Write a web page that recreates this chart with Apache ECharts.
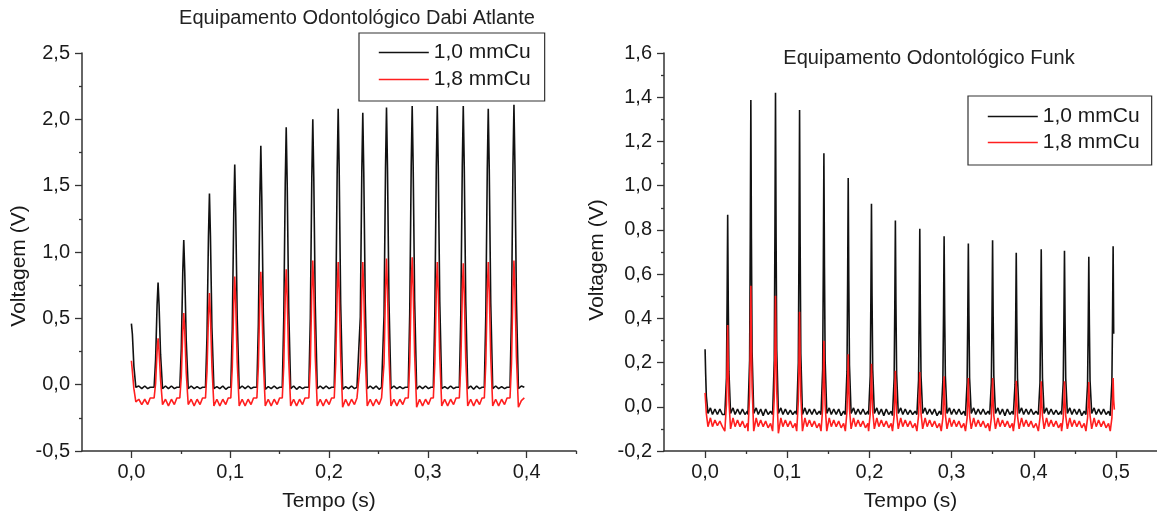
<!DOCTYPE html>
<html>
<head>
<meta charset="utf-8">
<title>Voltagem x Tempo</title>
<script src="https://cdn.jsdelivr.net/npm/echarts@6/dist/echarts.min.js"></script>
<style>
  html, body { margin: 0; padding: 0; background: #fff; }
  #chart { width: 1157px; height: 517px; }
</style>
</head>
<body>
<div id="chart"></div>
<script>
var FONT = 'Liberation Sans, Arial, sans-serif';
var seriesNames = ['1,0 mmCu', '1,8 mmCu'];

// Dabi Atlante: peak times (s) and sample offsets around each peak
var dabiPeakTimes = [0, 0.027, 0.053, 0.079, 0.1046, 0.131, 0.1567, 0.1836, 0.2093, 0.2342, 0.2582, 0.2842, 0.3096, 0.3359, 0.3612, 0.3872];
var dabiOffsets = [-0.004, -0.0025, -0.001, 0, 0.001, 0.0025, 0.0045, 0.0075, 0.0105, 0.0135, 0.0165, 0.019];
var dabiBlack = [
  [null, null, null, 0.46, 0.38, 0.14, -0.02, -0.01, -0.03, -0.01, -0.03, -0.02],
  [-0.02, 0.19, 0.60, 0.77, 0.60, 0.23, -0.03, -0.01, -0.03, -0.01, -0.03, -0.02],
  [-0.02, 0.27, 0.85, 1.09, 0.85, 0.33, -0.03, -0.01, -0.03, -0.015, -0.03, -0.02],
  [-0.02, 0.36, 1.12, 1.44, 1.12, 0.43, -0.03, -0.015, -0.03, -0.01, -0.035, -0.02],
  [-0.02, 0.42, 1.29, 1.66, 1.29, 0.50, -0.03, -0.01, -0.03, -0.01, -0.03, -0.02],
  [-0.02, 0.45, 1.40, 1.80, 1.40, 0.54, -0.035, -0.015, -0.03, -0.01, -0.03, -0.02],
  [-0.02, 0.49, 1.51, 1.94, 1.51, 0.58, -0.03, -0.01, -0.035, -0.015, -0.03, -0.02],
  [-0.02, 0.50, 1.56, 2.00, 1.56, 0.60, -0.03, -0.01, -0.03, -0.01, -0.03, -0.02],
  [-0.02, 0.52, 1.62, 2.08, 1.62, 0.62, -0.035, -0.015, -0.03, -0.01, -0.03, -0.02],
  [-0.02, 0.51, 1.60, 2.05, 1.60, 0.62, -0.03, -0.01, -0.03, -0.01, -0.035, -0.02],
  [-0.02, 0.52, 1.63, 2.09, 1.63, 0.63, -0.03, -0.01, -0.03, -0.015, -0.03, -0.02],
  [-0.02, 0.53, 1.64, 2.10, 1.64, 0.63, -0.035, -0.01, -0.03, -0.01, -0.03, -0.02],
  [-0.02, 0.53, 1.64, 2.10, 1.64, 0.63, -0.03, -0.015, -0.03, -0.01, -0.03, -0.02],
  [-0.02, 0.53, 1.64, 2.10, 1.64, 0.63, -0.03, -0.01, -0.035, -0.01, -0.03, -0.02],
  [-0.02, 0.52, 1.62, 2.08, 1.62, 0.62, -0.03, -0.01, -0.03, -0.015, -0.03, -0.02],
  [-0.02, 0.53, 1.65, 2.11, 1.65, 0.63, -0.03, -0.01, -0.02, null, null, null]
];
var dabiRed = [
  [null, null, null, 0.18, 0.10, -0.03, -0.13, -0.11, -0.15, -0.11, -0.15, -0.10],
  [-0.10, 0.01, 0.25, 0.35, 0.25, 0.04, -0.15, -0.11, -0.16, -0.11, -0.15, -0.10],
  [-0.10, 0.06, 0.40, 0.54, 0.40, 0.09, -0.15, -0.11, -0.16, -0.11, -0.15, -0.10],
  [-0.10, 0.10, 0.52, 0.69, 0.52, 0.14, -0.16, -0.11, -0.16, -0.11, -0.15, -0.10],
  [-0.10, 0.13, 0.61, 0.815, 0.61, 0.17, -0.16, -0.11, -0.16, -0.11, -0.15, -0.10],
  [-0.10, 0.14, 0.64, 0.85, 0.64, 0.19, -0.16, -0.11, -0.16, -0.11, -0.15, -0.10],
  [-0.10, 0.14, 0.66, 0.87, 0.66, 0.19, -0.16, -0.11, -0.16, -0.11, -0.15, -0.10],
  [-0.10, 0.16, 0.71, 0.935, 0.71, 0.21, -0.16, -0.11, -0.16, -0.11, -0.15, -0.10],
  [-0.10, 0.16, 0.70, 0.925, 0.70, 0.21, -0.17, -0.11, -0.16, -0.11, -0.15, -0.10],
  [-0.10, 0.16, 0.70, 0.925, 0.70, 0.21, -0.16, -0.11, -0.16, -0.11, -0.15, -0.10],
  [-0.10, 0.16, 0.72, 0.95, 0.72, 0.22, -0.16, -0.11, -0.16, -0.11, -0.15, -0.10],
  [-0.10, 0.17, 0.73, 0.96, 0.73, 0.22, -0.17, -0.11, -0.16, -0.11, -0.15, -0.10],
  [-0.10, 0.16, 0.70, 0.925, 0.70, 0.21, -0.16, -0.11, -0.16, -0.11, -0.15, -0.10],
  [-0.10, 0.15, 0.69, 0.915, 0.69, 0.20, -0.16, -0.11, -0.16, -0.11, -0.15, -0.10],
  [-0.10, 0.16, 0.70, 0.925, 0.70, 0.21, -0.16, -0.11, -0.16, -0.11, -0.15, -0.10],
  [-0.10, 0.16, 0.71, 0.935, 0.71, 0.21, -0.17, -0.12, -0.10, null, null, null]
];

// Funk
var funkPeakTimes = [0, 0.0275, 0.0557, 0.0857, 0.115, 0.1446, 0.1742, 0.2025, 0.2316, 0.2613, 0.2909, 0.3204, 0.3499, 0.3787, 0.4091, 0.4374, 0.467, 0.4966];
var funkOffsets = [-0.0035, -0.0015, -0.0007, 0, 0.0007, 0.0015, 0.0035, 0.0065, 0.009, 0.012, 0.015, 0.018, 0.021, 0.024];
var funkBlack = [
  [null, null, null, 0.26, 0.15, 0.05, -0.03, -0.005, -0.035, -0.01, -0.035, -0.01, -0.035, null],
  [-0.035, 0.13, 0.48, 0.868, 0.48, 0.16, -0.03, -0.005, -0.035, -0.01, -0.035, -0.01, -0.035, -0.02],
  [-0.035, 0.21, 0.76, 1.387, 0.76, 0.25, -0.03, -0.005, -0.035, -0.01, -0.04, -0.01, -0.035, -0.02],
  [-0.035, 0.21, 0.78, 1.42, 0.78, 0.26, -0.03, -0.005, -0.035, -0.01, -0.035, -0.015, -0.035, -0.02],
  [-0.035, 0.20, 0.74, 1.342, 0.74, 0.24, -0.035, -0.005, -0.035, -0.01, -0.035, -0.01, -0.035, -0.02],
  [-0.035, 0.17, 0.63, 1.147, 0.63, 0.21, -0.03, -0.005, -0.035, -0.01, -0.035, -0.01, -0.04, -0.02],
  [-0.035, 0.16, 0.57, 1.035, 0.57, 0.19, -0.03, -0.005, -0.035, -0.01, -0.035, -0.01, -0.035, -0.02],
  [-0.035, 0.14, 0.50, 0.918, 0.50, 0.17, -0.03, -0.005, -0.035, -0.01, -0.04, -0.01, -0.035, -0.02],
  [-0.04, 0.13, 0.46, 0.843, 0.46, 0.15, -0.03, -0.005, -0.035, -0.01, -0.035, -0.015, -0.035, -0.02],
  [-0.035, 0.12, 0.44, 0.805, 0.44, 0.14, -0.03, -0.005, -0.035, -0.01, -0.035, -0.01, -0.04, -0.02],
  [-0.035, 0.12, 0.42, 0.771, 0.42, 0.14, -0.03, -0.005, -0.035, -0.01, -0.035, -0.01, -0.035, -0.02],
  [-0.04, 0.11, 0.41, 0.738, 0.41, 0.13, -0.03, -0.005, -0.035, -0.01, -0.035, -0.01, -0.035, -0.02],
  [-0.035, 0.11, 0.41, 0.753, 0.41, 0.14, -0.03, -0.005, -0.035, -0.01, -0.04, -0.01, -0.035, -0.02],
  [-0.035, 0.10, 0.38, 0.697, 0.38, 0.13, -0.03, -0.005, -0.035, -0.01, -0.035, -0.01, -0.035, -0.02],
  [-0.035, 0.11, 0.39, 0.712, 0.39, 0.13, -0.03, -0.005, -0.035, -0.01, -0.035, -0.015, -0.035, -0.02],
  [-0.035, 0.11, 0.39, 0.706, 0.39, 0.13, -0.03, -0.005, -0.035, -0.01, -0.035, -0.01, -0.04, -0.02],
  [-0.035, 0.10, 0.37, 0.678, 0.37, 0.12, -0.03, -0.005, -0.035, -0.01, -0.035, -0.01, -0.035, -0.02],
  [-0.04, 0.11, 0.40, 0.726, 0.33, null, null, null, null, null, null, null, null, null]
];
var funkRed = [
  [null, null, null, 0.063, 0.02, -0.03, -0.09, -0.05, -0.09, -0.06, -0.085, -0.065, -0.09, null],
  [-0.11, 0.01, 0.18, 0.37, 0.18, 0.03, -0.10, -0.05, -0.09, -0.06, -0.09, -0.065, -0.095, -0.075],
  [-0.11, 0.05, 0.28, 0.547, 0.28, 0.09, -0.11, -0.05, -0.09, -0.06, -0.09, -0.065, -0.095, -0.075],
  [-0.11, 0.04, 0.26, 0.502, 0.26, 0.07, -0.12, -0.05, -0.09, -0.06, -0.09, -0.065, -0.095, -0.075],
  [-0.11, 0.025, 0.21, 0.43, 0.21, 0.05, -0.11, -0.05, -0.09, -0.06, -0.09, -0.065, -0.095, -0.075],
  [-0.11, -0.01, 0.13, 0.298, 0.13, 0.01, -0.11, -0.05, -0.09, -0.06, -0.09, -0.065, -0.095, -0.075],
  [-0.11, -0.02, 0.10, 0.238, 0.10, -0.01, -0.10, -0.05, -0.09, -0.06, -0.09, -0.065, -0.095, -0.075],
  [-0.11, -0.03, 0.07, 0.195, 0.07, -0.02, -0.10, -0.05, -0.09, -0.06, -0.09, -0.065, -0.095, -0.075],
  [-0.11, -0.04, 0.05, 0.163, 0.05, -0.03, -0.10, -0.05, -0.09, -0.06, -0.09, -0.065, -0.095, -0.075],
  [-0.11, -0.04, 0.05, 0.157, 0.05, -0.03, -0.10, -0.05, -0.09, -0.06, -0.09, -0.065, -0.095, -0.075],
  [-0.11, -0.05, 0.04, 0.138, 0.04, -0.035, -0.10, -0.05, -0.09, -0.06, -0.09, -0.065, -0.095, -0.075],
  [-0.11, -0.05, 0.03, 0.13, 0.03, -0.04, -0.10, -0.05, -0.09, -0.06, -0.09, -0.065, -0.095, -0.075],
  [-0.11, -0.05, 0.03, 0.13, 0.03, -0.04, -0.10, -0.05, -0.09, -0.06, -0.09, -0.065, -0.095, -0.075],
  [-0.11, -0.05, 0.03, 0.118, 0.03, -0.04, -0.10, -0.05, -0.09, -0.06, -0.09, -0.065, -0.095, -0.075],
  [-0.11, -0.05, 0.02, 0.115, 0.02, -0.04, -0.10, -0.05, -0.09, -0.06, -0.09, -0.065, -0.095, -0.075],
  [-0.11, -0.05, 0.02, 0.115, 0.02, -0.04, -0.10, -0.05, -0.09, -0.06, -0.09, -0.065, -0.095, -0.075],
  [-0.11, -0.05, 0.02, 0.112, 0.02, -0.04, -0.10, -0.05, -0.09, -0.06, -0.09, -0.065, -0.095, -0.075],
  [-0.11, -0.05, 0.03, 0.13, 0.03, -0.013, null, null, null, null, null, null, null, null]
];

// tick values
var dabiXTicks = [0, 0.1, 0.2, 0.3, 0.4];
var dabiXMinor = [0.05, 0.15, 0.25, 0.35, 0.45];
var funkXTicks = [0, 0.1, 0.2, 0.3, 0.4, 0.5];
var funkXMinor = [0.05, 0.15, 0.25, 0.35, 0.45];

function buildSeries(times, offsets, rows) {
	var out = [];
	for (var i = 0; i < rows.length; i++) {
		for (var j = 0; j < offsets.length; j++) {
			if (rows[i][j] === null) continue;
			out.push([+(times[i] + offsets[j]).toFixed(5), rows[i][j]]);
		}
	}
	return out;
}

function comma(v) {
	return v.toFixed(1).replace('.', ',');
}

var axisColor = '#333';
var labelStyle = { fontSize: 20, color: '#1a1a1a', fontFamily: FONT };

function xAxisMain(grid, min, max, ticks) {
	return {
		type: 'value', gridIndex: grid, min: min, max: max, position: 'bottom',
		name: 'Tempo (s)', nameLocation: 'middle', nameGap: 40,
		nameTextStyle: { fontSize: 21, color: '#1a1a1a', fontFamily: FONT },
		axisLine: { onZero: false, lineStyle: { color: axisColor, width: 1.5 } },
		axisTick: { customValues: ticks, length: 7, lineStyle: { color: axisColor, width: 1.3 } },
		axisLabel: Object.assign({ customValues: ticks, margin: 11, formatter: comma }, labelStyle),
		splitLine: { show: false }
	};
}
function xAxisMinor(grid, min, max, ticks) {
	return {
		type: 'value', gridIndex: grid, min: min, max: max, position: 'bottom',
		axisLine: { show: false, onZero: false },
		axisTick: { customValues: ticks, length: 3, lineStyle: { color: axisColor, width: 1.3 } },
		axisLabel: { show: false },
		splitLine: { show: false }
	};
}
function yAxis(grid, min, max, step, gap, pad) {
	return {
		type: 'value', gridIndex: grid, min: min, max: max, interval: step,
		name: 'Voltagem (V)', nameLocation: 'middle', nameGap: gap, nameRotate: 90,
		nameTextStyle: { fontSize: 21, color: '#1a1a1a', fontFamily: FONT, padding: [0, pad, 0, 0] },
		axisLine: { show: true, onZero: false, lineStyle: { color: axisColor, width: 1.5 } },
		axisTick: { length: 7, lineStyle: { color: axisColor, width: 1.3 } },
		minorTick: { show: true, splitNumber: 2, length: 3, lineStyle: { color: axisColor, width: 1.3 } },
		axisLabel: Object.assign({ margin: 12, formatter: comma }, labelStyle),
		splitLine: { show: false }
	};
}

function lineSeries(name, x, y, data, color) {
	return {
		name: name, type: 'line', xAxisIndex: x, yAxisIndex: y,
		data: data, symbol: 'none', smooth: false,
		lineStyle: { color: color, width: 1.6 },
		itemStyle: { color: color }
	};
}

function legendBox(left, top, pad, gap) {
	return {
		orient: 'vertical', left: left, top: top,
		data: seriesNames,
		itemWidth: 50, itemHeight: 14, itemGap: gap,
		padding: pad,
		borderColor: '#333', borderWidth: 1.2, borderRadius: 0,
		itemStyle: { opacity: 0 },
		lineStyle: { width: 1.6 },
		textStyle: { fontSize: 21, color: '#1a1a1a', fontFamily: FONT },
		selectedMode: false
	};
}

var option = {
	animation: false,
	backgroundColor: '#fff',
	graphic: [
		{ type: 'text', x: 357, y: 18, style: { text: 'Equipamento Odontológico Dabi Atlante', fontSize: 20, fontFamily: FONT, fill: '#222', textAlign: 'center', textVerticalAlign: 'middle' } },
		{ type: 'text', x: 929, y: 58, style: { text: 'Equipamento Odontológico Funk', fontSize: 20, fontFamily: FONT, fill: '#222', textAlign: 'center', textVerticalAlign: 'middle' } }
	],
	legend: [
		legendBox(359, 33, [9, 14, 11, 19], 6),
		legendBox(968, 96, [10, 12, 12, 19], 5)
	],
	grid: [
		{ left: 82, top: 53, width: 494, height: 400 },
		{ left: 664, top: 53, width: 493, height: 400 }
	],
	xAxis: [
		xAxisMain(0, -0.05, 0.45, dabiXTicks),
		xAxisMinor(0, -0.05, 0.45, dabiXMinor),
		xAxisMain(1, -0.05, 0.55, funkXTicks),
		xAxisMinor(1, -0.05, 0.55, funkXMinor)
	],
	yAxis: [
		yAxis(0, -0.5, 2.5, 0.5, 52, 28),
		yAxis(1, -0.2, 1.6, 0.2, 56, 16)
	],
	series: [
		lineSeries(seriesNames[0], 0, 0, buildSeries(dabiPeakTimes, dabiOffsets, dabiBlack), '#111'),
		lineSeries(seriesNames[1], 0, 0, buildSeries(dabiPeakTimes, dabiOffsets, dabiRed), '#ff1f1f'),
		lineSeries(seriesNames[0], 2, 1, buildSeries(funkPeakTimes, funkOffsets, funkBlack), '#111'),
		lineSeries(seriesNames[1], 2, 1, buildSeries(funkPeakTimes, funkOffsets, funkRed), '#ff1f1f')
	]
};

var myChart = echarts.init(document.getElementById('chart'), null, { renderer: 'canvas' });
myChart.setOption(option);
</script>
</body>
</html>
